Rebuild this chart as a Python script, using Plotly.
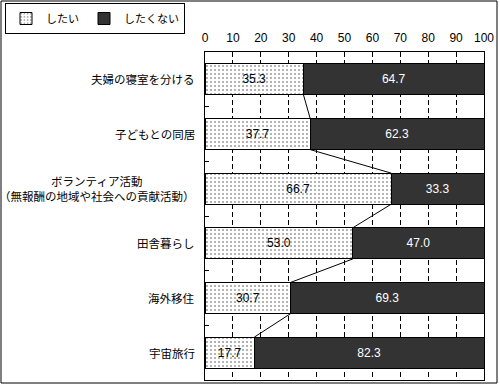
import plotly.graph_objects as go

categories = ["夫婦の寝室を分ける", "子どもとの同居", "ボランティア活動<br>（無報酬の地域や社会への貢献活動）",
              "田舎暮らし", "海外移住", "宇宙旅行"]
want = [35.3, 37.7, 66.7, 53.0, 30.7, 17.7]
not_want = [64.7, 62.3, 33.3, 47.0, 69.3, 82.3]
series_names = ["したい", "したくない"]
x_ticks = [0, 10, 20, 30, 40, 50, 60, 70, 80, 90, 100]

W, H = 500, 385
L, R, T, B = 205, 16, 52, 5
pw, ph = W - L - R, H - T - B
bar_w = 0.57
pos = list(range(len(categories)))

def px_x(px):
    return (px - L) / pw

def px_y(py):
    return (H - B - py) / ph

num_font = "Liberation Sans, Arial, sans-serif"
jp_font = "Noto Sans CJK JP, sans-serif"

fig = go.Figure()
fig.add_trace(go.Bar(
    y=pos, x=want, orientation="h", name=series_names[0], width=bar_w,
    marker=dict(color="white", line=dict(color="black", width=1),
                pattern=dict(shape=".", size=4, solidity=0.2, fgcolor="#333333", bgcolor="white")),
    text=[f"{v:.1f}" for v in want], textposition="inside", insidetextanchor="middle",
    textangle=0, constraintext="none",
    textfont=dict(family=num_font, size=12, color="black"), hoverinfo="skip"))
fig.add_trace(go.Bar(
    y=pos, x=not_want, orientation="h", name=series_names[1], width=bar_w,
    marker=dict(color="#333333", line=dict(color="black", width=1)),
    text=[f"{v:.1f}" for v in not_want], textposition="inside", insidetextanchor="middle",
    textangle=0, constraintext="none",
    textfont=dict(family=num_font, size=12, color="white"), hoverinfo="skip"))

# series lines connecting the split points of adjacent bars
for i in range(len(categories) - 1):
    fig.add_trace(go.Scatter(
        x=[want[i], want[i + 1]], y=[pos[i] + bar_w / 2, pos[i + 1] - bar_w / 2],
        mode="lines", line=dict(color="black", width=1), showlegend=False, hoverinfo="skip"))

for i, c in enumerate(categories):
    fig.add_annotation(x=px_x(197), xref="paper", y=pos[i], yref="y", text=c,
                       xanchor="right", yanchor="middle", align="center", showarrow=False,
                       font=dict(family=jp_font, size=11.5, color="black"))

# outer border
fig.add_shape(type="rect", xref="paper", yref="paper",
              x0=px_x(1), x1=px_x(497), y0=px_y(383), y1=px_y(1),
              line=dict(color="black", width=1), fillcolor="rgba(0,0,0,0)", layer="above")

fig.update_layout(
    width=W, height=H, barmode="stack", bargap=0.43,
    margin=dict(l=L, r=R, t=T, b=B, autoexpand=False),
    paper_bgcolor="white", plot_bgcolor="white",
    showlegend=True,
    legend=dict(orientation="h", x=px_x(5), xanchor="left", y=px_y(3), yanchor="top",
                bordercolor="black", borderwidth=1, bgcolor="white",
                font=dict(family=jp_font, size=11, color="black"),
                itemwidth=30, traceorder="normal",
                tracegroupgap=0),
    xaxis=dict(side="top", range=[0, 100], tickvals=x_ticks, ticktext=[str(v) for v in x_ticks],
               showgrid=True, gridcolor="black", gridwidth=1, griddash="5px,3px",
               showline=True, linecolor="black", linewidth=1, mirror=True,
               ticks="inside", ticklen=4, tickcolor="black", ticklabelstandoff=4,
               tickfont=dict(family=num_font, size=12, color="black"), zeroline=False),
    yaxis=dict(range=[len(categories) - 0.5, -0.5], tickmode="array",
               tickvals=[p + 0.5 for p in pos[:-1]], showticklabels=False,
               ticks="inside", ticklen=4, tickcolor="black",
               showgrid=False, showline=True, linecolor="black", linewidth=1, mirror=True,
               zeroline=False),
)

fig.write_html("out.html", config={"displayModeBar": False, "staticPlot": True},
               post_script="document.body.style.margin='0';document.body.style.overflow='hidden';")
